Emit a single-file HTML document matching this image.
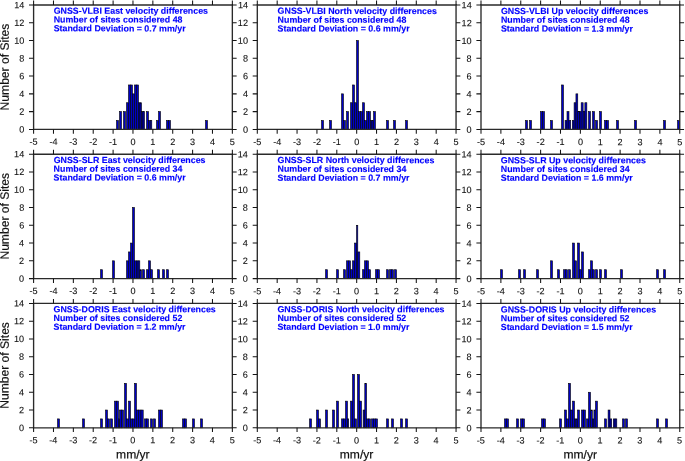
<!DOCTYPE html><html><head><meta charset="utf-8"><title>Velocity difference histograms</title><style>html,body{margin:0;padding:0;background:#fff;overflow:hidden;}svg{display:block;}</style></head><body>
<svg width="685" height="461" viewBox="0 0 685 461">
<rect width="685" height="461" fill="#fff"/>
<g fill="#0000c4" stroke="#000" stroke-width="0.6"><rect x="116.50" y="120.51" width="2" height="8.89"/><rect x="119.50" y="111.63" width="2" height="17.77"/><rect x="123.50" y="111.63" width="2" height="17.77"/><rect x="126.50" y="102.74" width="2" height="26.66"/><rect x="128.50" y="84.97" width="2" height="44.43"/><rect x="130.50" y="84.97" width="2" height="44.43"/><rect x="132.50" y="93.86" width="2" height="35.54"/><rect x="134.50" y="84.97" width="2" height="44.43"/><rect x="136.50" y="84.97" width="2" height="44.43"/><rect x="138.50" y="102.74" width="1.50" height="26.66"/><rect x="140.00" y="102.74" width="1.50" height="26.66"/><rect x="141.50" y="111.63" width="1.50" height="17.77"/><rect x="143.00" y="111.63" width="1.50" height="17.77"/><rect x="146.50" y="111.63" width="2" height="17.77"/><rect x="148.60" y="120.51" width="1.60" height="8.89"/><rect x="150.20" y="120.51" width="1.60" height="8.89"/><rect x="156.50" y="120.51" width="2" height="8.89"/><rect x="158.50" y="111.63" width="2" height="17.77"/><rect x="166.50" y="120.51" width="2" height="8.89"/><rect x="168.50" y="120.51" width="2" height="8.89"/><rect x="205.50" y="120.51" width="2" height="8.89"/></g>
<path d="M33.60,5.00H232.35V129.40H33.60Z" fill="none" stroke="#2a2a2a" stroke-width="1.35"/>
<path d="M33.60,129.40v4.3M33.60,5.00v-4.5M53.48,129.40v4.3M53.48,5.00v-4.5M73.35,129.40v4.3M73.35,5.00v-4.5M93.22,129.40v4.3M93.22,5.00v-4.5M113.10,129.40v4.3M113.10,5.00v-4.5M132.97,129.40v4.3M132.97,5.00v-4.5M152.85,129.40v4.3M152.85,5.00v-4.5M172.72,129.40v4.3M172.72,5.00v-4.5M192.60,129.40v4.3M192.60,5.00v-4.5M212.47,129.40v4.3M212.47,5.00v-4.5M232.35,129.40v4.3M232.35,5.00v-4.5M33.60,129.40h-4.6M232.35,129.40h4.3M33.60,111.63h-4.6M232.35,111.63h4.3M33.60,93.86h-4.6M232.35,93.86h4.3M33.60,76.09h-4.6M232.35,76.09h4.3M33.60,58.31h-4.6M232.35,58.31h4.3M33.60,40.54h-4.6M232.35,40.54h4.3M33.60,22.77h-4.6M232.35,22.77h4.3M33.60,5.00h-4.6M232.35,5.00h4.3" fill="none" stroke="#151515" stroke-width="1.05"/>
<g fill="#0000c4" stroke="#000" stroke-width="0.6"><rect x="321.50" y="120.51" width="2" height="8.89"/><rect x="329.50" y="120.51" width="2" height="8.89"/><rect x="341.50" y="93.86" width="2" height="35.54"/><rect x="343.50" y="120.51" width="2" height="8.89"/><rect x="346.50" y="111.63" width="2" height="17.77"/><rect x="350.50" y="102.74" width="2" height="26.66"/><rect x="352.50" y="84.97" width="2" height="44.43"/><rect x="354.50" y="102.74" width="2" height="26.66"/><rect x="356.50" y="40.54" width="2" height="88.86"/><rect x="358.50" y="111.63" width="2" height="17.77"/><rect x="360.50" y="111.63" width="2" height="17.77"/><rect x="362.50" y="102.74" width="2" height="26.66"/><rect x="364.50" y="120.51" width="2" height="8.89"/><rect x="366.50" y="111.63" width="2" height="17.77"/><rect x="368.50" y="111.63" width="2" height="17.77"/><rect x="370.50" y="120.51" width="1.50" height="8.89"/><rect x="372.00" y="120.51" width="1.50" height="8.89"/><rect x="373.50" y="111.63" width="2" height="17.77"/><rect x="386.50" y="120.51" width="2" height="8.89"/><rect x="393.50" y="120.51" width="2" height="8.89"/><rect x="405.50" y="120.51" width="2" height="8.89"/></g>
<path d="M257.30,5.00H456.05V129.40H257.30Z" fill="none" stroke="#2a2a2a" stroke-width="1.35"/>
<path d="M257.30,129.40v4.3M257.30,5.00v-4.5M277.18,129.40v4.3M277.18,5.00v-4.5M297.05,129.40v4.3M297.05,5.00v-4.5M316.93,129.40v4.3M316.93,5.00v-4.5M336.80,129.40v4.3M336.80,5.00v-4.5M356.68,129.40v4.3M356.68,5.00v-4.5M376.55,129.40v4.3M376.55,5.00v-4.5M396.43,129.40v4.3M396.43,5.00v-4.5M416.30,129.40v4.3M416.30,5.00v-4.5M436.18,129.40v4.3M436.18,5.00v-4.5M456.05,129.40v4.3M456.05,5.00v-4.5M257.30,129.40h-4.6M456.05,129.40h4.3M257.30,111.63h-4.6M456.05,111.63h4.3M257.30,93.86h-4.6M456.05,93.86h4.3M257.30,76.09h-4.6M456.05,76.09h4.3M257.30,58.31h-4.6M456.05,58.31h4.3M257.30,40.54h-4.6M456.05,40.54h4.3M257.30,22.77h-4.6M456.05,22.77h4.3M257.30,5.00h-4.6M456.05,5.00h4.3" fill="none" stroke="#151515" stroke-width="1.05"/>
<g fill="#0000c4" stroke="#000" stroke-width="0.6"><rect x="525.50" y="120.51" width="2" height="8.89"/><rect x="529.50" y="120.51" width="2" height="8.89"/><rect x="540.50" y="111.63" width="2" height="17.77"/><rect x="542.50" y="111.63" width="2" height="17.77"/><rect x="550.50" y="120.51" width="2" height="8.89"/><rect x="561.50" y="84.97" width="2" height="44.43"/><rect x="565.05" y="120.51" width="1.99" height="8.89"/><rect x="567.00" y="111.63" width="1.99" height="17.77"/><rect x="568.90" y="120.51" width="1.80" height="8.89"/><rect x="572.29" y="120.51" width="1.83" height="8.89"/><rect x="574.09" y="102.74" width="1.83" height="26.66"/><rect x="575.94" y="93.86" width="1.83" height="35.54"/><rect x="577.79" y="111.63" width="1.83" height="17.77"/><rect x="579.55" y="111.63" width="1.60" height="17.77"/><rect x="581.15" y="102.74" width="1.99" height="26.66"/><rect x="583.20" y="111.63" width="1.60" height="17.77"/><rect x="584.86" y="102.74" width="1.99" height="26.66"/><rect x="588.50" y="111.63" width="2" height="17.77"/><rect x="592.50" y="111.63" width="2" height="17.77"/><rect x="595.50" y="120.51" width="2" height="8.89"/><rect x="599.50" y="111.63" width="2" height="17.77"/><rect x="604.50" y="120.51" width="2" height="8.89"/><rect x="606.50" y="120.51" width="2" height="8.89"/><rect x="616.50" y="120.51" width="2" height="8.89"/><rect x="634.50" y="120.51" width="2" height="8.89"/><rect x="663.50" y="120.51" width="2" height="8.89"/><rect x="677.50" y="120.51" width="2" height="8.89"/></g>
<path d="M481.00,5.00H679.75V129.40H481.00Z" fill="none" stroke="#2a2a2a" stroke-width="1.35"/>
<path d="M481.00,129.40v4.3M481.00,5.00v-4.5M500.88,129.40v4.3M500.88,5.00v-4.5M520.75,129.40v4.3M520.75,5.00v-4.5M540.62,129.40v4.3M540.62,5.00v-4.5M560.50,129.40v4.3M560.50,5.00v-4.5M580.38,129.40v4.3M580.38,5.00v-4.5M600.25,129.40v4.3M600.25,5.00v-4.5M620.12,129.40v4.3M620.12,5.00v-4.5M640.00,129.40v4.3M640.00,5.00v-4.5M659.88,129.40v4.3M659.88,5.00v-4.5M679.75,129.40v4.3M679.75,5.00v-4.5M481.00,129.40h-4.6M679.75,129.40h4.3M481.00,111.63h-4.6M679.75,111.63h4.3M481.00,93.86h-4.6M679.75,93.86h4.3M481.00,76.09h-4.6M679.75,76.09h4.3M481.00,58.31h-4.6M679.75,58.31h4.3M481.00,40.54h-4.6M679.75,40.54h4.3M481.00,22.77h-4.6M679.75,22.77h4.3M481.00,5.00h-4.6M679.75,5.00h4.3" fill="none" stroke="#151515" stroke-width="1.05"/>
<g fill="#0000c4" stroke="#000" stroke-width="0.6"><rect x="100.50" y="269.71" width="2" height="8.89"/><rect x="112.50" y="260.83" width="2" height="17.77"/><rect x="126.50" y="260.83" width="2" height="17.77"/><rect x="128.50" y="251.94" width="2" height="26.66"/><rect x="130.50" y="243.06" width="2" height="35.54"/><rect x="132.50" y="207.51" width="2" height="71.09"/><rect x="134.50" y="260.83" width="1.80" height="17.77"/><rect x="136.30" y="260.83" width="1.80" height="17.77"/><rect x="138.10" y="260.83" width="1.70" height="17.77"/><rect x="139.80" y="269.71" width="1.70" height="8.89"/><rect x="142.50" y="269.71" width="2" height="8.89"/><rect x="146.50" y="269.71" width="2" height="8.89"/><rect x="148.50" y="260.83" width="2" height="17.77"/><rect x="150.50" y="269.71" width="2" height="8.89"/><rect x="157.50" y="269.71" width="2" height="8.89"/><rect x="162.50" y="269.71" width="2" height="8.89"/><rect x="166.50" y="269.71" width="2" height="8.89"/></g>
<path d="M33.60,154.20H232.35V278.60H33.60Z" fill="none" stroke="#2a2a2a" stroke-width="1.35"/>
<path d="M33.60,278.60v4.3M33.60,154.20v-4.5M53.48,278.60v4.3M53.48,154.20v-4.5M73.35,278.60v4.3M73.35,154.20v-4.5M93.22,278.60v4.3M93.22,154.20v-4.5M113.10,278.60v4.3M113.10,154.20v-4.5M132.97,278.60v4.3M132.97,154.20v-4.5M152.85,278.60v4.3M152.85,154.20v-4.5M172.72,278.60v4.3M172.72,154.20v-4.5M192.60,278.60v4.3M192.60,154.20v-4.5M212.47,278.60v4.3M212.47,154.20v-4.5M232.35,278.60v4.3M232.35,154.20v-4.5M33.60,278.60h-4.6M232.35,278.60h4.3M33.60,260.83h-4.6M232.35,260.83h4.3M33.60,243.06h-4.6M232.35,243.06h4.3M33.60,225.29h-4.6M232.35,225.29h4.3M33.60,207.51h-4.6M232.35,207.51h4.3M33.60,189.74h-4.6M232.35,189.74h4.3M33.60,171.97h-4.6M232.35,171.97h4.3M33.60,154.20h-4.6M232.35,154.20h4.3" fill="none" stroke="#151515" stroke-width="1.05"/>
<g fill="#0000c4" stroke="#000" stroke-width="0.6"><rect x="325.50" y="269.71" width="2" height="8.89"/><rect x="336.50" y="269.71" width="2" height="8.89"/><rect x="343.50" y="269.71" width="2" height="8.89"/><rect x="346.50" y="260.83" width="2" height="17.77"/><rect x="348.50" y="260.83" width="2" height="17.77"/><rect x="350.50" y="269.71" width="2" height="8.89"/><rect x="352.50" y="260.83" width="2" height="17.77"/><rect x="354.50" y="243.06" width="2" height="35.54"/><rect x="356.50" y="225.29" width="1.30" height="53.31"/><rect x="357.81" y="251.94" width="1.99" height="26.66"/><rect x="362.50" y="269.71" width="2" height="8.89"/><rect x="364.50" y="260.83" width="2" height="17.77"/><rect x="366.50" y="260.83" width="2" height="17.77"/><rect x="368.50" y="269.71" width="2" height="8.89"/><rect x="375.50" y="269.71" width="2" height="8.89"/><rect x="377.50" y="269.71" width="2" height="8.89"/><rect x="386.50" y="269.71" width="2" height="8.89"/><rect x="389.50" y="269.71" width="2" height="8.89"/><rect x="391.50" y="269.71" width="2" height="8.89"/><rect x="394.50" y="269.71" width="2" height="8.89"/></g>
<path d="M257.30,154.20H456.05V278.60H257.30Z" fill="none" stroke="#2a2a2a" stroke-width="1.35"/>
<path d="M257.30,278.60v4.3M257.30,154.20v-4.5M277.18,278.60v4.3M277.18,154.20v-4.5M297.05,278.60v4.3M297.05,154.20v-4.5M316.93,278.60v4.3M316.93,154.20v-4.5M336.80,278.60v4.3M336.80,154.20v-4.5M356.68,278.60v4.3M356.68,154.20v-4.5M376.55,278.60v4.3M376.55,154.20v-4.5M396.43,278.60v4.3M396.43,154.20v-4.5M416.30,278.60v4.3M416.30,154.20v-4.5M436.18,278.60v4.3M436.18,154.20v-4.5M456.05,278.60v4.3M456.05,154.20v-4.5M257.30,278.60h-4.6M456.05,278.60h4.3M257.30,260.83h-4.6M456.05,260.83h4.3M257.30,243.06h-4.6M456.05,243.06h4.3M257.30,225.29h-4.6M456.05,225.29h4.3M257.30,207.51h-4.6M456.05,207.51h4.3M257.30,189.74h-4.6M456.05,189.74h4.3M257.30,171.97h-4.6M456.05,171.97h4.3M257.30,154.20h-4.6M456.05,154.20h4.3" fill="none" stroke="#151515" stroke-width="1.05"/>
<g fill="#0000c4" stroke="#000" stroke-width="0.6"><rect x="500.50" y="269.71" width="2" height="8.89"/><rect x="518.50" y="269.71" width="2" height="8.89"/><rect x="523.50" y="269.71" width="2" height="8.89"/><rect x="536.50" y="269.71" width="2" height="8.89"/><rect x="550.50" y="260.83" width="2" height="17.77"/><rect x="557.50" y="269.71" width="2" height="8.89"/><rect x="563.50" y="269.71" width="2" height="8.89"/><rect x="565.50" y="269.71" width="2" height="8.89"/><rect x="568.50" y="269.71" width="2" height="8.89"/><rect x="572.50" y="243.06" width="2" height="35.54"/><rect x="574.50" y="260.83" width="2" height="17.77"/><rect x="577.50" y="243.06" width="2" height="35.54"/><rect x="579.50" y="269.71" width="2" height="8.89"/><rect x="581.50" y="251.94" width="2" height="26.66"/><rect x="588.50" y="269.71" width="2" height="8.89"/><rect x="590.50" y="260.83" width="2" height="17.77"/><rect x="592.50" y="269.71" width="2" height="8.89"/><rect x="595.50" y="269.71" width="2" height="8.89"/><rect x="599.50" y="269.71" width="2" height="8.89"/><rect x="604.50" y="269.71" width="2" height="8.89"/><rect x="620.50" y="269.71" width="2" height="8.89"/><rect x="656.50" y="269.71" width="2" height="8.89"/><rect x="663.50" y="269.71" width="2" height="8.89"/></g>
<path d="M481.00,154.20H679.75V278.60H481.00Z" fill="none" stroke="#2a2a2a" stroke-width="1.35"/>
<path d="M481.00,278.60v4.3M481.00,154.20v-4.5M500.88,278.60v4.3M500.88,154.20v-4.5M520.75,278.60v4.3M520.75,154.20v-4.5M540.62,278.60v4.3M540.62,154.20v-4.5M560.50,278.60v4.3M560.50,154.20v-4.5M580.38,278.60v4.3M580.38,154.20v-4.5M600.25,278.60v4.3M600.25,154.20v-4.5M620.12,278.60v4.3M620.12,154.20v-4.5M640.00,278.60v4.3M640.00,154.20v-4.5M659.88,278.60v4.3M659.88,154.20v-4.5M679.75,278.60v4.3M679.75,154.20v-4.5M481.00,278.60h-4.6M679.75,278.60h4.3M481.00,260.83h-4.6M679.75,260.83h4.3M481.00,243.06h-4.6M679.75,243.06h4.3M481.00,225.29h-4.6M679.75,225.29h4.3M481.00,207.51h-4.6M679.75,207.51h4.3M481.00,189.74h-4.6M679.75,189.74h4.3M481.00,171.97h-4.6M679.75,171.97h4.3M481.00,154.20h-4.6M679.75,154.20h4.3" fill="none" stroke="#151515" stroke-width="1.05"/>
<g fill="#0000c4" stroke="#000" stroke-width="0.6"><rect x="57.50" y="418.91" width="2" height="8.89"/><rect x="82.50" y="418.91" width="2" height="8.89"/><rect x="100.50" y="418.91" width="2" height="8.89"/><rect x="105.50" y="410.03" width="2" height="17.77"/><rect x="107.50" y="418.91" width="2" height="8.89"/><rect x="110.50" y="418.91" width="2" height="8.89"/><rect x="114.50" y="401.14" width="2" height="26.66"/><rect x="116.50" y="401.14" width="2" height="26.66"/><rect x="118.50" y="418.91" width="1.00" height="8.89"/><rect x="119.50" y="410.03" width="2" height="17.77"/><rect x="121.50" y="410.03" width="2" height="17.77"/><rect x="124.50" y="383.37" width="2" height="44.43"/><rect x="126.50" y="418.91" width="2" height="8.89"/><rect x="128.50" y="401.14" width="2" height="26.66"/><rect x="130.50" y="418.91" width="2" height="8.89"/><rect x="132.50" y="418.91" width="2" height="8.89"/><rect x="134.50" y="383.37" width="2" height="44.43"/><rect x="136.48" y="410.03" width="2.23" height="17.77"/><rect x="138.73" y="410.03" width="2.23" height="17.77"/><rect x="140.98" y="410.03" width="2.23" height="17.77"/><rect x="144.50" y="418.91" width="2" height="8.89"/><rect x="146.50" y="418.91" width="2" height="8.89"/><rect x="150.50" y="418.91" width="2" height="8.89"/><rect x="153.50" y="418.91" width="2" height="8.89"/><rect x="158.50" y="410.03" width="2" height="17.77"/><rect x="160.50" y="410.03" width="2" height="17.77"/><rect x="182.50" y="418.91" width="2" height="8.89"/><rect x="184.50" y="418.91" width="2" height="8.89"/><rect x="192.50" y="418.91" width="2" height="8.89"/><rect x="200.50" y="418.91" width="2" height="8.89"/></g>
<path d="M33.60,303.40H232.35V427.80H33.60Z" fill="none" stroke="#2a2a2a" stroke-width="1.35"/>
<path d="M33.60,427.80v4.3M33.60,303.40v-4.5M53.48,427.80v4.3M53.48,303.40v-4.5M73.35,427.80v4.3M73.35,303.40v-4.5M93.22,427.80v4.3M93.22,303.40v-4.5M113.10,427.80v4.3M113.10,303.40v-4.5M132.97,427.80v4.3M132.97,303.40v-4.5M152.85,427.80v4.3M152.85,303.40v-4.5M172.72,427.80v4.3M172.72,303.40v-4.5M192.60,427.80v4.3M192.60,303.40v-4.5M212.47,427.80v4.3M212.47,303.40v-4.5M232.35,427.80v4.3M232.35,303.40v-4.5M33.60,427.80h-4.6M232.35,427.80h4.3M33.60,410.03h-4.6M232.35,410.03h4.3M33.60,392.26h-4.6M232.35,392.26h4.3M33.60,374.49h-4.6M232.35,374.49h4.3M33.60,356.71h-4.6M232.35,356.71h4.3M33.60,338.94h-4.6M232.35,338.94h4.3M33.60,321.17h-4.6M232.35,321.17h4.3M33.60,303.40h-4.6M232.35,303.40h4.3" fill="none" stroke="#151515" stroke-width="1.05"/>
<g fill="#0000c4" stroke="#000" stroke-width="0.6"><rect x="309.50" y="418.91" width="2" height="8.89"/><rect x="316.50" y="410.03" width="2" height="17.77"/><rect x="318.50" y="418.91" width="2" height="8.89"/><rect x="325.50" y="410.03" width="2" height="17.77"/><rect x="332.50" y="410.03" width="2" height="17.77"/><rect x="336.50" y="401.14" width="2" height="26.66"/><rect x="341.50" y="418.91" width="2" height="8.89"/><rect x="343.50" y="418.91" width="2" height="8.89"/><rect x="345.50" y="401.14" width="2" height="26.66"/><rect x="347.50" y="418.91" width="1.20" height="8.89"/><rect x="350.50" y="401.14" width="2" height="26.66"/><rect x="352.50" y="374.49" width="2" height="53.31"/><rect x="354.50" y="418.91" width="2" height="8.89"/><rect x="357.50" y="374.49" width="2" height="53.31"/><rect x="359.50" y="401.14" width="2" height="26.66"/><rect x="363.10" y="410.03" width="1.70" height="17.77"/><rect x="364.80" y="383.37" width="1.80" height="44.43"/><rect x="366.50" y="418.91" width="2" height="8.89"/><rect x="368.50" y="418.91" width="2" height="8.89"/><rect x="371.50" y="418.91" width="2" height="8.89"/><rect x="373.50" y="418.91" width="2" height="8.89"/><rect x="375.50" y="418.91" width="2" height="8.89"/><rect x="386.50" y="418.91" width="2" height="8.89"/><rect x="391.50" y="418.91" width="2" height="8.89"/><rect x="400.50" y="418.91" width="2" height="8.89"/><rect x="405.50" y="418.91" width="2" height="8.89"/></g>
<path d="M257.30,303.40H456.05V427.80H257.30Z" fill="none" stroke="#2a2a2a" stroke-width="1.35"/>
<path d="M257.30,427.80v4.3M257.30,303.40v-4.5M277.18,427.80v4.3M277.18,303.40v-4.5M297.05,427.80v4.3M297.05,303.40v-4.5M316.93,427.80v4.3M316.93,303.40v-4.5M336.80,427.80v4.3M336.80,303.40v-4.5M356.68,427.80v4.3M356.68,303.40v-4.5M376.55,427.80v4.3M376.55,303.40v-4.5M396.43,427.80v4.3M396.43,303.40v-4.5M416.30,427.80v4.3M416.30,303.40v-4.5M436.18,427.80v4.3M436.18,303.40v-4.5M456.05,427.80v4.3M456.05,303.40v-4.5M257.30,427.80h-4.6M456.05,427.80h4.3M257.30,410.03h-4.6M456.05,410.03h4.3M257.30,392.26h-4.6M456.05,392.26h4.3M257.30,374.49h-4.6M456.05,374.49h4.3M257.30,356.71h-4.6M456.05,356.71h4.3M257.30,338.94h-4.6M456.05,338.94h4.3M257.30,321.17h-4.6M456.05,321.17h4.3M257.30,303.40h-4.6M456.05,303.40h4.3" fill="none" stroke="#151515" stroke-width="1.05"/>
<g fill="#0000c4" stroke="#000" stroke-width="0.6"><rect x="504.50" y="418.91" width="2" height="8.89"/><rect x="506.50" y="418.91" width="2" height="8.89"/><rect x="516.50" y="418.91" width="2" height="8.89"/><rect x="520.50" y="418.91" width="2" height="8.89"/><rect x="522.50" y="418.91" width="2" height="8.89"/><rect x="541.50" y="418.91" width="2" height="8.89"/><rect x="543.50" y="418.91" width="2" height="8.89"/><rect x="559.50" y="418.91" width="2" height="8.89"/><rect x="564.50" y="410.03" width="2" height="17.77"/><rect x="566.50" y="418.91" width="2" height="8.89"/><rect x="568.50" y="383.37" width="2" height="44.43"/><rect x="570.50" y="410.03" width="2" height="17.77"/><rect x="572.50" y="401.14" width="2" height="26.66"/><rect x="574.50" y="418.91" width="1.40" height="8.89"/><rect x="576.00" y="418.91" width="1.40" height="8.89"/><rect x="577.50" y="410.03" width="2" height="17.77"/><rect x="581.50" y="410.03" width="2" height="17.77"/><rect x="583.50" y="410.03" width="2" height="17.77"/><rect x="586.50" y="418.91" width="2" height="8.89"/><rect x="588.50" y="392.26" width="2" height="35.54"/><rect x="590.70" y="410.03" width="1.60" height="17.77"/><rect x="592.30" y="418.91" width="1.60" height="8.89"/><rect x="593.90" y="410.03" width="1.30" height="17.77"/><rect x="595.46" y="401.14" width="1.99" height="26.66"/><rect x="604.50" y="418.91" width="2" height="8.89"/><rect x="608.10" y="410.03" width="1.90" height="17.77"/><rect x="610.00" y="418.91" width="1.70" height="8.89"/><rect x="613.30" y="418.91" width="1.80" height="8.89"/><rect x="615.10" y="418.91" width="1.70" height="8.89"/><rect x="622.50" y="418.91" width="2" height="8.89"/><rect x="625.50" y="418.91" width="2" height="8.89"/><rect x="656.50" y="418.91" width="2" height="8.89"/><rect x="665.50" y="418.91" width="2" height="8.89"/></g>
<path d="M481.00,303.40H679.75V427.80H481.00Z" fill="none" stroke="#2a2a2a" stroke-width="1.35"/>
<path d="M481.00,427.80v4.3M481.00,303.40v-4.5M500.88,427.80v4.3M500.88,303.40v-4.5M520.75,427.80v4.3M520.75,303.40v-4.5M540.62,427.80v4.3M540.62,303.40v-4.5M560.50,427.80v4.3M560.50,303.40v-4.5M580.38,427.80v4.3M580.38,303.40v-4.5M600.25,427.80v4.3M600.25,303.40v-4.5M620.12,427.80v4.3M620.12,303.40v-4.5M640.00,427.80v4.3M640.00,303.40v-4.5M659.88,427.80v4.3M659.88,303.40v-4.5M679.75,427.80v4.3M679.75,303.40v-4.5M481.00,427.80h-4.6M679.75,427.80h4.3M481.00,410.03h-4.6M679.75,410.03h4.3M481.00,392.26h-4.6M679.75,392.26h4.3M481.00,374.49h-4.6M679.75,374.49h4.3M481.00,356.71h-4.6M679.75,356.71h4.3M481.00,338.94h-4.6M679.75,338.94h4.3M481.00,321.17h-4.6M679.75,321.17h4.3M481.00,303.40h-4.6M679.75,303.40h4.3" fill="none" stroke="#151515" stroke-width="1.05"/>
<g transform="rotate(0.03 342 230)"><g font-family="Liberation Sans, Arial, sans-serif" font-size="9.1" fill="#111" stroke="#111" stroke-width="0.1" text-anchor="end"><text x="24.20" y="132.70">0</text><text x="24.20" y="114.93">2</text><text x="24.20" y="97.16">4</text><text x="24.20" y="79.39">6</text><text x="24.20" y="61.61">8</text><text x="24.20" y="43.84">10</text><text x="24.20" y="26.07">12</text><text x="24.20" y="8.30">14</text></g>
<g font-family="Liberation Sans, Arial, sans-serif" font-size="9.1" fill="#111" stroke="#111" stroke-width="0.1" text-anchor="middle"><text x="33.60" y="145.00">-5</text><text x="53.48" y="145.00">-4</text><text x="73.35" y="145.00">-3</text><text x="93.22" y="145.00">-2</text><text x="113.10" y="145.00">-1</text><text x="132.97" y="145.00">0</text><text x="152.85" y="145.00">1</text><text x="172.72" y="145.00">2</text><text x="192.60" y="145.00">3</text><text x="212.47" y="145.00">4</text><text x="232.35" y="145.00">5</text></g>
<g font-family="Liberation Sans, Arial, sans-serif" font-size="8.85" font-weight="bold" fill="#0000ff" stroke="#0000ff" stroke-width="0.12"><text x="53.60" y="13.90">GNSS-VLBI East velocity differences</text><text x="53.60" y="22.70">Number of sites considered 48</text><text x="53.60" y="31.50">Standard Deviation = 0.7 mm/yr</text></g>
<g font-family="Liberation Sans, Arial, sans-serif" font-size="9.1" fill="#111" stroke="#111" stroke-width="0.1" text-anchor="end"><text x="247.90" y="132.70">0</text><text x="247.90" y="114.93">2</text><text x="247.90" y="97.16">4</text><text x="247.90" y="79.39">6</text><text x="247.90" y="61.61">8</text><text x="247.90" y="43.84">10</text><text x="247.90" y="26.07">12</text><text x="247.90" y="8.30">14</text></g>
<g font-family="Liberation Sans, Arial, sans-serif" font-size="9.1" fill="#111" stroke="#111" stroke-width="0.1" text-anchor="middle"><text x="257.30" y="145.00">-5</text><text x="277.18" y="145.00">-4</text><text x="297.05" y="145.00">-3</text><text x="316.93" y="145.00">-2</text><text x="336.80" y="145.00">-1</text><text x="356.68" y="145.00">0</text><text x="376.55" y="145.00">1</text><text x="396.43" y="145.00">2</text><text x="416.30" y="145.00">3</text><text x="436.18" y="145.00">4</text><text x="456.05" y="145.00">5</text></g>
<g font-family="Liberation Sans, Arial, sans-serif" font-size="8.85" font-weight="bold" fill="#0000ff" stroke="#0000ff" stroke-width="0.12"><text x="277.50" y="13.90">GNSS-VLBI North velocity differences</text><text x="277.50" y="22.70">Number of sites considered 48</text><text x="277.50" y="31.50">Standard Deviation = 0.6 mm/yr</text></g>
<g font-family="Liberation Sans, Arial, sans-serif" font-size="9.1" fill="#111" stroke="#111" stroke-width="0.1" text-anchor="end"><text x="471.60" y="132.70">0</text><text x="471.60" y="114.93">2</text><text x="471.60" y="97.16">4</text><text x="471.60" y="79.39">6</text><text x="471.60" y="61.61">8</text><text x="471.60" y="43.84">10</text><text x="471.60" y="26.07">12</text><text x="471.60" y="8.30">14</text></g>
<g font-family="Liberation Sans, Arial, sans-serif" font-size="9.1" fill="#111" stroke="#111" stroke-width="0.1" text-anchor="middle"><text x="481.00" y="145.00">-5</text><text x="500.88" y="145.00">-4</text><text x="520.75" y="145.00">-3</text><text x="540.62" y="145.00">-2</text><text x="560.50" y="145.00">-1</text><text x="580.38" y="145.00">0</text><text x="600.25" y="145.00">1</text><text x="620.12" y="145.00">2</text><text x="640.00" y="145.00">3</text><text x="659.88" y="145.00">4</text><text x="679.75" y="145.00">5</text></g>
<g font-family="Liberation Sans, Arial, sans-serif" font-size="8.85" font-weight="bold" fill="#0000ff" stroke="#0000ff" stroke-width="0.12"><text x="500.80" y="13.90">GNSS-VLBI Up velocity differences</text><text x="500.80" y="22.70">Number of sites considered 48</text><text x="500.80" y="31.50">Standard Deviation = 1.3 mm/yr</text></g>
<text font-family="Liberation Sans, Arial, sans-serif" font-size="12.1" fill="#111" stroke="#111" stroke-width="0.2" text-anchor="middle" transform="translate(8.7,67.20) rotate(-89.97)">Number of Sites</text>
<g font-family="Liberation Sans, Arial, sans-serif" font-size="9.1" fill="#111" stroke="#111" stroke-width="0.1" text-anchor="end"><text x="24.20" y="281.90">0</text><text x="24.20" y="264.13">2</text><text x="24.20" y="246.36">4</text><text x="24.20" y="228.59">6</text><text x="24.20" y="210.81">8</text><text x="24.20" y="193.04">10</text><text x="24.20" y="175.27">12</text><text x="24.20" y="157.50">14</text></g>
<g font-family="Liberation Sans, Arial, sans-serif" font-size="9.1" fill="#111" stroke="#111" stroke-width="0.1" text-anchor="middle"><text x="33.60" y="294.20">-5</text><text x="53.48" y="294.20">-4</text><text x="73.35" y="294.20">-3</text><text x="93.22" y="294.20">-2</text><text x="113.10" y="294.20">-1</text><text x="132.97" y="294.20">0</text><text x="152.85" y="294.20">1</text><text x="172.72" y="294.20">2</text><text x="192.60" y="294.20">3</text><text x="212.47" y="294.20">4</text><text x="232.35" y="294.20">5</text></g>
<g font-family="Liberation Sans, Arial, sans-serif" font-size="8.85" font-weight="bold" fill="#0000ff" stroke="#0000ff" stroke-width="0.12"><text x="53.60" y="163.10">GNSS-SLR East velocity differences</text><text x="53.60" y="171.90">Number of sites considered 34</text><text x="53.60" y="180.70">Standard Deviation = 0.6 mm/yr</text></g>
<g font-family="Liberation Sans, Arial, sans-serif" font-size="9.1" fill="#111" stroke="#111" stroke-width="0.1" text-anchor="end"><text x="247.90" y="281.90">0</text><text x="247.90" y="264.13">2</text><text x="247.90" y="246.36">4</text><text x="247.90" y="228.59">6</text><text x="247.90" y="210.81">8</text><text x="247.90" y="193.04">10</text><text x="247.90" y="175.27">12</text><text x="247.90" y="157.50">14</text></g>
<g font-family="Liberation Sans, Arial, sans-serif" font-size="9.1" fill="#111" stroke="#111" stroke-width="0.1" text-anchor="middle"><text x="257.30" y="294.20">-5</text><text x="277.18" y="294.20">-4</text><text x="297.05" y="294.20">-3</text><text x="316.93" y="294.20">-2</text><text x="336.80" y="294.20">-1</text><text x="356.68" y="294.20">0</text><text x="376.55" y="294.20">1</text><text x="396.43" y="294.20">2</text><text x="416.30" y="294.20">3</text><text x="436.18" y="294.20">4</text><text x="456.05" y="294.20">5</text></g>
<g font-family="Liberation Sans, Arial, sans-serif" font-size="8.85" font-weight="bold" fill="#0000ff" stroke="#0000ff" stroke-width="0.12"><text x="277.50" y="163.10">GNSS-SLR North velocity differences</text><text x="277.50" y="171.90">Number of sites considered 34</text><text x="277.50" y="180.70">Standard Deviation = 0.7 mm/yr</text></g>
<g font-family="Liberation Sans, Arial, sans-serif" font-size="9.1" fill="#111" stroke="#111" stroke-width="0.1" text-anchor="end"><text x="471.60" y="281.90">0</text><text x="471.60" y="264.13">2</text><text x="471.60" y="246.36">4</text><text x="471.60" y="228.59">6</text><text x="471.60" y="210.81">8</text><text x="471.60" y="193.04">10</text><text x="471.60" y="175.27">12</text><text x="471.60" y="157.50">14</text></g>
<g font-family="Liberation Sans, Arial, sans-serif" font-size="9.1" fill="#111" stroke="#111" stroke-width="0.1" text-anchor="middle"><text x="481.00" y="294.20">-5</text><text x="500.88" y="294.20">-4</text><text x="520.75" y="294.20">-3</text><text x="540.62" y="294.20">-2</text><text x="560.50" y="294.20">-1</text><text x="580.38" y="294.20">0</text><text x="600.25" y="294.20">1</text><text x="620.12" y="294.20">2</text><text x="640.00" y="294.20">3</text><text x="659.88" y="294.20">4</text><text x="679.75" y="294.20">5</text></g>
<g font-family="Liberation Sans, Arial, sans-serif" font-size="8.85" font-weight="bold" fill="#0000ff" stroke="#0000ff" stroke-width="0.12"><text x="500.80" y="163.10">GNSS-SLR Up velocity differences</text><text x="500.80" y="171.90">Number of sites considered 34</text><text x="500.80" y="180.70">Standard Deviation = 1.6 mm/yr</text></g>
<text font-family="Liberation Sans, Arial, sans-serif" font-size="12.1" fill="#111" stroke="#111" stroke-width="0.2" text-anchor="middle" transform="translate(8.7,216.40) rotate(-89.97)">Number of Sites</text>
<g font-family="Liberation Sans, Arial, sans-serif" font-size="9.1" fill="#111" stroke="#111" stroke-width="0.1" text-anchor="end"><text x="24.20" y="431.10">0</text><text x="24.20" y="413.33">2</text><text x="24.20" y="395.56">4</text><text x="24.20" y="377.79">6</text><text x="24.20" y="360.01">8</text><text x="24.20" y="342.24">10</text><text x="24.20" y="324.47">12</text><text x="24.20" y="306.70">14</text></g>
<g font-family="Liberation Sans, Arial, sans-serif" font-size="9.1" fill="#111" stroke="#111" stroke-width="0.1" text-anchor="middle"><text x="33.60" y="443.40">-5</text><text x="53.48" y="443.40">-4</text><text x="73.35" y="443.40">-3</text><text x="93.22" y="443.40">-2</text><text x="113.10" y="443.40">-1</text><text x="132.97" y="443.40">0</text><text x="152.85" y="443.40">1</text><text x="172.72" y="443.40">2</text><text x="192.60" y="443.40">3</text><text x="212.47" y="443.40">4</text><text x="232.35" y="443.40">5</text></g>
<g font-family="Liberation Sans, Arial, sans-serif" font-size="8.85" font-weight="bold" fill="#0000ff" stroke="#0000ff" stroke-width="0.12"><text x="53.60" y="312.30">GNSS-DORIS East velocity differences</text><text x="53.60" y="321.10">Number of sites considered 52</text><text x="53.60" y="329.90">Standard Deviation = 1.2 mm/yr</text></g>
<g font-family="Liberation Sans, Arial, sans-serif" font-size="9.1" fill="#111" stroke="#111" stroke-width="0.1" text-anchor="end"><text x="247.90" y="431.10">0</text><text x="247.90" y="413.33">2</text><text x="247.90" y="395.56">4</text><text x="247.90" y="377.79">6</text><text x="247.90" y="360.01">8</text><text x="247.90" y="342.24">10</text><text x="247.90" y="324.47">12</text><text x="247.90" y="306.70">14</text></g>
<g font-family="Liberation Sans, Arial, sans-serif" font-size="9.1" fill="#111" stroke="#111" stroke-width="0.1" text-anchor="middle"><text x="257.30" y="443.40">-5</text><text x="277.18" y="443.40">-4</text><text x="297.05" y="443.40">-3</text><text x="316.93" y="443.40">-2</text><text x="336.80" y="443.40">-1</text><text x="356.68" y="443.40">0</text><text x="376.55" y="443.40">1</text><text x="396.43" y="443.40">2</text><text x="416.30" y="443.40">3</text><text x="436.18" y="443.40">4</text><text x="456.05" y="443.40">5</text></g>
<g font-family="Liberation Sans, Arial, sans-serif" font-size="8.85" font-weight="bold" fill="#0000ff" stroke="#0000ff" stroke-width="0.12"><text x="277.50" y="312.30">GNSS-DORIS North velocity differences</text><text x="277.50" y="321.10">Number of sites considered 52</text><text x="277.50" y="329.90">Standard Deviation = 1.0 mm/yr</text></g>
<g font-family="Liberation Sans, Arial, sans-serif" font-size="9.1" fill="#111" stroke="#111" stroke-width="0.1" text-anchor="end"><text x="471.60" y="431.10">0</text><text x="471.60" y="413.33">2</text><text x="471.60" y="395.56">4</text><text x="471.60" y="377.79">6</text><text x="471.60" y="360.01">8</text><text x="471.60" y="342.24">10</text><text x="471.60" y="324.47">12</text><text x="471.60" y="306.70">14</text></g>
<g font-family="Liberation Sans, Arial, sans-serif" font-size="9.1" fill="#111" stroke="#111" stroke-width="0.1" text-anchor="middle"><text x="481.00" y="443.40">-5</text><text x="500.88" y="443.40">-4</text><text x="520.75" y="443.40">-3</text><text x="540.62" y="443.40">-2</text><text x="560.50" y="443.40">-1</text><text x="580.38" y="443.40">0</text><text x="600.25" y="443.40">1</text><text x="620.12" y="443.40">2</text><text x="640.00" y="443.40">3</text><text x="659.88" y="443.40">4</text><text x="679.75" y="443.40">5</text></g>
<g font-family="Liberation Sans, Arial, sans-serif" font-size="8.85" font-weight="bold" fill="#0000ff" stroke="#0000ff" stroke-width="0.12"><text x="500.80" y="312.30">GNSS-DORIS Up velocity differences</text><text x="500.80" y="321.10">Number of sites considered 52</text><text x="500.80" y="329.90">Standard Deviation = 1.5 mm/yr</text></g>
<text font-family="Liberation Sans, Arial, sans-serif" font-size="12.1" fill="#111" stroke="#111" stroke-width="0.2" text-anchor="middle" transform="translate(8.7,365.60) rotate(-89.97)">Number of Sites</text>
<text font-family="Liberation Sans, Arial, sans-serif" font-size="12.1" fill="#111" stroke="#111" stroke-width="0.2" text-anchor="middle" x="132.97" y="458.5">mm/yr</text>
<text font-family="Liberation Sans, Arial, sans-serif" font-size="12.1" fill="#111" stroke="#111" stroke-width="0.2" text-anchor="middle" x="356.68" y="458.5">mm/yr</text>
<text font-family="Liberation Sans, Arial, sans-serif" font-size="12.1" fill="#111" stroke="#111" stroke-width="0.2" text-anchor="middle" x="580.38" y="458.5">mm/yr</text></g>
</svg></body></html>
